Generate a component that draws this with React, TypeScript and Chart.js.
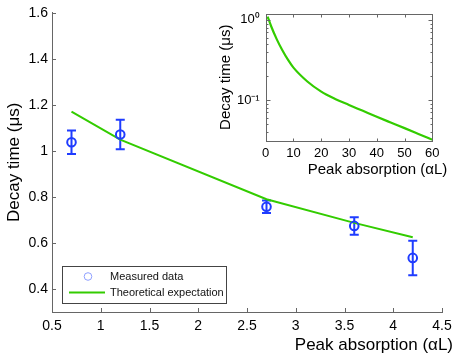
import React, { useEffect, useRef } from "react";
import { Chart, registerables } from "chart.js";

Chart.register(...registerables);

// ---------- data ----------
const measuredX = [0.7, 1.2, 2.7, 3.6, 4.2];
const measuredY = [1.037, 1.071, 0.757, 0.674, 0.535];
const measuredErr = [0.051, 0.064, 0.027, 0.038, 0.075];

const theoryX = [0.7, 1.2, 2.7, 3.6, 4.2];
const theoryY = [1.17, 1.049, 0.79, 0.687, 0.625];

const mainYTicks = [0.4, 0.6, 0.8, 1, 1.2, 1.4, 1.6];

const insetX = [0.7, 2, 4, 6, 8, 10, 15, 20, 25, 30, 35, 40, 45, 50, 55, 60];
const insetY = [1.1, 0.826, 0.57, 0.417, 0.318, 0.253, 0.17, 0.127, 0.103, 0.0867, 0.0731, 0.0616, 0.0523, 0.0445, 0.0377, 0.0319];
const insetMajorTicks = [0.1, 1];
const insetMajorLabels = ["10\u207B\u00B9", "10\u2070"];
const insetMinorTicks = [0.04, 0.05, 0.06, 0.07, 0.08, 0.09, 0.2, 0.3, 0.4, 0.5, 0.6, 0.7, 0.8, 0.9];

const labelMeasured = "Measured data";
const labelTheory = "Theoretical expectation";
const yTitle = "Decay time (\u03BCs)";
const xTitle = "Peak absorption (\u03B1L)";

const BLUE = "#1f3cff";
const GREEN = "#33cc00";
const AXIS = "#666666";
const FONT = "'Liberation Sans', Arial, Helvetica, sans-serif";

// ---------- plugins ----------
const errorBarsPlugin = {
  id: "errorBars",
  beforeDatasetsDraw(chart: any) {
    const { ctx } = chart;
    const x = chart.scales.x;
    const y = chart.scales.y;
    ctx.save();
    ctx.strokeStyle = BLUE;
    ctx.lineWidth = 2;
    measuredX.forEach((mx, i) => {
      const px = x.getPixelForValue(mx);
      const top = y.getPixelForValue(measuredY[i] + measuredErr[i]);
      const bot = y.getPixelForValue(measuredY[i] - measuredErr[i]);
      ctx.beginPath();
      ctx.moveTo(px, top);
      ctx.lineTo(px, bot);
      ctx.moveTo(px - 4.5, top);
      ctx.lineTo(px + 4.5, top);
      ctx.moveTo(px - 4.5, bot);
      ctx.lineTo(px + 4.5, bot);
      ctx.stroke();
    });
    ctx.restore();
  },
};

const mainAxesPlugin = {
  id: "mainAxes",
  afterDraw(chart: any) {
    const { ctx, chartArea } = chart;
    const x = chart.scales.x;
    const y = chart.scales.y;
    ctx.save();
    ctx.strokeStyle = AXIS;
    ctx.lineWidth = 1;
    ctx.beginPath();
    x.ticks.forEach((t: any) => {
      const px = Math.round(x.getPixelForValue(t.value)) + 0.5;
      ctx.moveTo(px, chartArea.bottom);
      ctx.lineTo(px, chartArea.bottom - 4);
    });
    y.ticks.forEach((t: any) => {
      const py = Math.round(y.getPixelForValue(t.value)) + 0.5;
      ctx.moveTo(chartArea.left, py);
      ctx.lineTo(chartArea.left + 4, py);
    });
    ctx.stroke();

    // x title (right-shifted like the original)
    ctx.fillStyle = "#000";
    ctx.font = `17px ${FONT}`;
    ctx.textAlign = "right";
    ctx.textBaseline = "middle";
    ctx.fillText(xTitle, chartArea.right + 11, chartArea.bottom + 33);

    // legend
    const ds = chart.data.datasets;
    const x0 = Math.round(chartArea.left + 10) + 0.5;
    const y0 = Math.round(chartArea.bottom - 46) + 0.5;
    const w = 164;
    const h = 37;
    ctx.fillStyle = "#fff";
    ctx.fillRect(x0, y0, w, h);
    ctx.strokeStyle = "#444";
    ctx.lineWidth = 1;
    ctx.strokeRect(x0, y0, w, h);

    ctx.strokeStyle = "#8fa0ff";
    ctx.lineWidth = 1;
    ctx.beginPath();
    ctx.arc(x0 + 25.5, y0 + 10, 3.8, 0, Math.PI * 2);
    ctx.stroke();

    ctx.strokeStyle = GREEN;
    ctx.lineWidth = 2;
    ctx.beginPath();
    ctx.moveTo(x0 + 6.5, y0 + 26);
    ctx.lineTo(x0 + 42.5, y0 + 26);
    ctx.stroke();

    ctx.fillStyle = "#111";
    ctx.font = `11px ${FONT}`;
    ctx.textAlign = "left";
    ctx.textBaseline = "middle";
    ctx.fillText(ds[0].label, x0 + 47.5, y0 + 10);
    ctx.fillText(ds[1].label, x0 + 47.5, y0 + 26);
    ctx.restore();
  },
};

const insetAxesPlugin = {
  id: "insetAxes",
  beforeDraw(chart: any) {
    const { ctx, chartArea } = chart;
    ctx.save();
    ctx.fillStyle = "#fff";
    ctx.fillRect(chartArea.left, chartArea.top, chartArea.right - chartArea.left, chartArea.bottom - chartArea.top);
    ctx.restore();
  },
  afterDraw(chart: any) {
    const { ctx, chartArea } = chart;
    const x = chart.scales.x;
    const y = chart.scales.y;
    const L = Math.round(chartArea.left) + 0.5;
    const R = Math.round(chartArea.right) + 0.5;
    const T = Math.round(chartArea.top) + 0.5;
    const B = Math.round(chartArea.bottom) + 0.5;
    ctx.save();
    ctx.strokeStyle = AXIS;
    ctx.lineWidth = 1;
    ctx.strokeRect(L, T, R - L, B - T);
    ctx.beginPath();
    x.ticks.forEach((t: any) => {
      const px = Math.round(x.getPixelForValue(t.value)) + 0.5;
      ctx.moveTo(px, B);
      ctx.lineTo(px, B - 3);
      ctx.moveTo(px, T);
      ctx.lineTo(px, T + 3);
    });
    insetMajorTicks.forEach((v) => {
      const py = Math.round(y.getPixelForValue(v)) + 0.5;
      ctx.moveTo(L, py);
      ctx.lineTo(L + 4, py);
      ctx.moveTo(R, py);
      ctx.lineTo(R - 4, py);
    });
    insetMinorTicks.forEach((v) => {
      const py = Math.round(y.getPixelForValue(v)) + 0.5;
      ctx.moveTo(L, py);
      ctx.lineTo(L + 2, py);
      ctx.moveTo(R, py);
      ctx.lineTo(R - 2, py);
    });
    ctx.stroke();

    ctx.fillStyle = "#000";
    ctx.font = `15px ${FONT}`;
    ctx.textAlign = "right";
    ctx.textBaseline = "middle";
    ctx.fillText(xTitle, chartArea.right + 15, chartArea.bottom + 29);
    ctx.restore();
  },
};

export default function App() {
  const mainRef = useRef<HTMLCanvasElement>(null);
  const insetRef = useRef<HTMLCanvasElement>(null);

  useEffect(() => {
    Chart.defaults.font.family = FONT;
    Chart.defaults.color = "#000";

    const main = new Chart(mainRef.current as HTMLCanvasElement, {
      type: "scatter",
      data: {
        datasets: [
          {
            label: labelMeasured,
            data: measuredX.map((x, i) => ({ x, y: measuredY[i] })),
            showLine: false,
            pointStyle: "circle",
            pointRadius: 4.3,
            borderColor: BLUE,
            backgroundColor: "rgba(0,0,0,0)",
            borderWidth: 2,
          },
          {
            label: labelTheory,
            data: theoryX.map((x, i) => ({ x, y: theoryY[i] })),
            showLine: true,
            borderColor: GREEN,
            borderWidth: 2,
            pointRadius: 0,
            fill: false,
            tension: 0,
          },
        ],
      },
      options: {
        animation: false,
        responsive: false,
        maintainAspectRatio: false,
        layout: { padding: { top: 12.7, right: 21, left: 0, bottom: 0 } },
        plugins: { legend: { display: false }, tooltip: { enabled: false } },
        scales: {
          x: {
            type: "linear",
            min: 0.5,
            max: 4.5,
            ticks: {
              stepSize: 0.5,
              padding: 6,
              font: { size: 14 },
              color: "#000",
              maxRotation: 0,
              callback: (v: any) => String(Math.round(Number(v) * 10) / 10),
            },
            grid: { display: false, drawTicks: false },
            border: { display: true, color: AXIS, width: 1 },
            afterFit: (s: any) => {
              s.height = 48;
            },
          },
          y: {
            type: "linear",
            min: 0.3,
            max: 1.6,
            afterBuildTicks: (s: any) => {
              s.ticks = mainYTicks.map((v) => ({ value: v }));
            },
            ticks: {
              padding: 4,
              font: { size: 14 },
              color: "#000",
              callback: (v: any) => String(Math.round(Number(v) * 10) / 10),
            },
            title: {
              display: true,
              text: yTitle,
              font: { size: 17 },
              color: "#000",
              padding: { top: 4, bottom: 0 },
            },
            grid: { display: false, drawTicks: false },
            border: { display: true, color: AXIS, width: 1 },
            afterFit: (s: any) => {
              s.width = 52;
            },
          },
        },
      },
      plugins: [errorBarsPlugin, mainAxesPlugin],
    });

    const inset = new Chart(insetRef.current as HTMLCanvasElement, {
      type: "line",
      data: {
        datasets: [
          {
            label: "inset",
            data: insetX.map((x, i) => ({ x, y: insetY[i] })),
            borderColor: GREEN,
            borderWidth: 2.2,
            pointRadius: 0,
            fill: false,
            cubicInterpolationMode: "monotone",
          },
        ],
      },
      options: {
        animation: false,
        responsive: false,
        maintainAspectRatio: false,
        layout: { padding: { top: 13.3, right: 30.7, left: 0, bottom: 0 } },
        plugins: { legend: { display: false }, tooltip: { enabled: false } },
        scales: {
          x: {
            type: "linear",
            min: 0,
            max: 60,
            ticks: { stepSize: 10, padding: 5, font: { size: 13 }, color: "#000", maxRotation: 0 },
            grid: { display: false, drawTicks: false },
            border: { display: false },
            afterFit: (s: any) => {
              s.height = 49.3;
            },
          },
          y: {
            type: "logarithmic",
            min: 0.031,
            max: 1.19,
            afterBuildTicks: (s: any) => {
              s.ticks = insetMajorTicks.map((v) => ({ value: v }));
            },
            ticks: {
              padding: 6,
              font: { size: 13 },
              color: "#000",
              callback: (v: any) => {
                const i = insetMajorTicks.indexOf(Number(v));
                return i >= 0 ? insetMajorLabels[i] : "";
              },
            },
            title: {
              display: true,
              text: yTitle,
              font: { size: 15 },
              color: "#000",
              padding: { top: 16.5, bottom: 0 },
            },
            grid: { display: false, drawTicks: false },
            border: { display: false },
            afterFit: (s: any) => {
              s.width = 65.7;
            },
          },
        },
      },
      plugins: [insetAxesPlugin],
    });

    return () => {
      main.destroy();
      inset.destroy();
    };
  }, []);

  return (
    <div style={{ position: "fixed", left: 0, top: 0, width: 463, height: 360, background: "#fff" }}>
      <canvas ref={mainRef} width={463} height={360} style={{ position: "absolute", left: 0, top: 0 }} />
      <canvas ref={insetRef} width={263} height={190} style={{ position: "absolute", left: 200, top: 0 }} />
    </div>
  );
}
